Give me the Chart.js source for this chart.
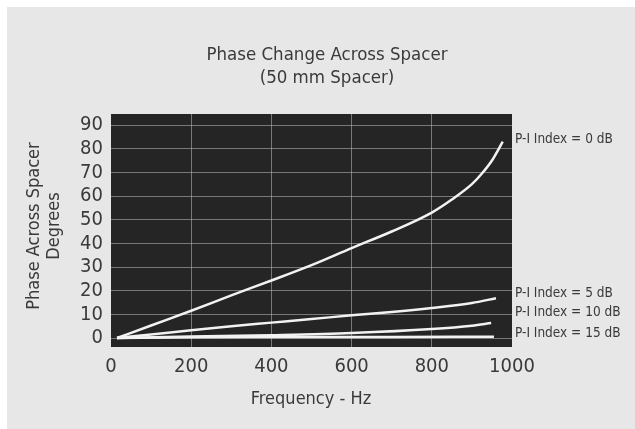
<!DOCTYPE html>
<html>
<head>
<meta charset="utf-8">
<script src="https://cdn.jsdelivr.net/npm/chart.js@4/dist/chart.umd.min.js"></script>
<style>
  html, body { margin: 0; padding: 0; background: #ffffff; }
  #wrap { position: absolute; left: 0; top: 0; width: 635px; height: 429px; }
  #panel { position: absolute; left: 7px; top: 7px; width: 628px; height: 422px; background: #e7e7e7; }
  canvas { position: absolute; left: 0; top: 0; }
</style>
</head>
<body>
<div id="wrap">
  <div id="panel"></div>
  <canvas id="phaseChart" width="635" height="429"></canvas>
</div>
<script>
// values
const freq0 = [15, 100, 200, 300, 400, 500, 600, 700, 800, 850, 900, 925, 950, 977];
const phase0 = [0, 5.3, 11.5, 18, 24.3, 30.8, 38, 45, 53, 58.5, 65, 69.5, 75, 83];

const freq5 = [15, 100, 200, 300, 400, 500, 600, 700, 800, 900, 960];
const phase5 = [0, 1.5, 3.3, 5, 6.5, 8, 9.6, 11, 12.7, 14.8, 16.8];

const freq10 = [15, 200, 400, 600, 800, 900, 948];
const phase10 = [0, 0.6, 1.2, 2.1, 3.8, 5.2, 6.3];

const freq15 = [15, 200, 400, 700, 955];
const phase15 = [0, 0.3, 0.4, 0.45, 0.5];

const seriesNames = ["P-I Index = 0 dB", "P-I Index = 5 dB", "P-I Index = 10 dB", "P-I Index = 15 dB"];
const yTicks = [0, 10, 20, 30, 40, 50, 60, 70, 80, 90];
const xTicks = [0, 200, 400, 600, 800, 1000];

const titleLines = ["Phase Change Across Spacer", "(50 mm Spacer)"];
const yTitleLines = ["Phase Across Spacer", "Degrees"];
const xTitle = "Frequency - Hz";

const FONT = "'Liberation Sans Narrow', 'DejaVu Sans Condensed', sans-serif";
const TEXT = "#3a3a3a";

const toPoints = (xs, ys) => xs.map((x, i) => ({ x: x, y: ys[i] }));

const lineStyle = {
  borderColor: "#f2f2f2",
  borderWidth: 2.5,
  pointRadius: 0,
  fill: false,
  showLine: true,
  cubicInterpolationMode: "monotone"
};

// heights (data units) where the series names sit, right of the plot
const labelAt = [83.7, 19, 10.6, 2.1];

const decorPlugin = {
  id: "decor",
  beforeDraw(chart) {
    const { ctx, chartArea } = chart;
    ctx.save();
    ctx.fillStyle = "#252525";
    ctx.fillRect(chartArea.left, chartArea.top, chartArea.right - chartArea.left, chartArea.bottom - chartArea.top);
    ctx.restore();
  },
  afterDraw(chart) {
    const { ctx, chartArea, scales } = chart;
    ctx.save();
    ctx.fillStyle = TEXT;
    ctx.textAlign = "center";
    ctx.textBaseline = "middle";

    // title
    ctx.font = "18.5px " + FONT;
    ctx.fillText(titleLines[0], 327, 55);
    ctx.fillText(titleLines[1], 327, 78);

    // x axis title
    ctx.font = "18px " + FONT;
    ctx.fillText(xTitle, 311, 399);

    // y axis title
    ctx.save();
    ctx.translate(34, 226);
    ctx.rotate(-Math.PI / 2);
    ctx.fillText(yTitleLines[0], 0, 0);
    ctx.restore();
    ctx.save();
    ctx.translate(54, 226);
    ctx.rotate(-Math.PI / 2);
    ctx.fillText(yTitleLines[1], 0, 0);
    ctx.restore();

    // series labels
    ctx.font = "13.5px " + FONT;
    ctx.textAlign = "left";
    seriesNames.forEach((name, i) => {
      ctx.fillText(name, chartArea.right + 3, scales.y.getPixelForValue(labelAt[i]));
    });
    ctx.restore();
  }
};

new Chart(document.getElementById("phaseChart"), {
  type: "scatter",
  data: {
    datasets: [
      { label: seriesNames[0], data: toPoints(freq0, phase0), ...lineStyle },
      { label: seriesNames[1], data: toPoints(freq5, phase5), ...lineStyle },
      { label: seriesNames[2], data: toPoints(freq10, phase10), ...lineStyle },
      { label: seriesNames[3], data: toPoints(freq15, phase15), ...lineStyle }
    ]
  },
  options: {
    responsive: false,
    animation: false,
    devicePixelRatio: 1,
    layout: { padding: { left: 0, right: 123, top: 114, bottom: 0 } },
    plugins: {
      legend: { display: false },
      tooltip: { enabled: false }
    },
    scales: {
      x: {
        type: "linear",
        min: 0,
        max: 1000,
        afterFit: (scale) => { scale.height = 429 - 347; },
        afterBuildTicks: (scale) => { scale.ticks = xTicks.map((v) => ({ value: v })); },
        border: { display: false },
        grid: {
          drawTicks: false,
          color: (c) => (c.tick && (c.tick.value === 0 || c.tick.value === 1000) ? "rgba(0,0,0,0)" : "rgba(190,190,190,0.55)"),
          lineWidth: 1
        },
        ticks: {
          color: TEXT,
          padding: 8,
          maxRotation: 0,
          autoSkip: false,
          callback: (v) => String(v),
          font: { family: FONT, size: 20 }
        }
      },
      y: {
        type: "linear",
        min: -3.8,
        max: 94.65,
        afterFit: (scale) => { scale.width = 111; },
        afterBuildTicks: (scale) => { scale.ticks = yTicks.map((v) => ({ value: v })); },
        border: { display: false },
        grid: {
          drawTicks: false,
          color: "rgba(190,190,190,0.55)",
          lineWidth: 1
        },
        ticks: {
          color: TEXT,
          padding: 8,
          autoSkip: false,
          callback: (v) => String(v),
          font: { family: FONT, size: 20 }
        }
      }
    }
  },
  plugins: [decorPlugin]
});
</script>
</body>
</html>
